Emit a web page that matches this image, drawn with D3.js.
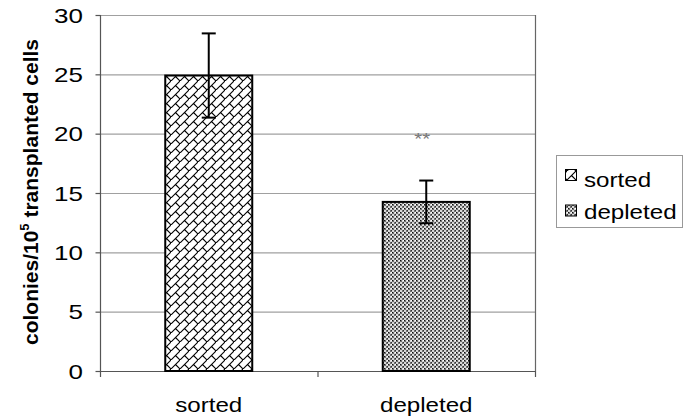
<!DOCTYPE html>
<html>
<head>
<meta charset="utf-8">
<script src="https://cdn.jsdelivr.net/npm/d3@7"></script>
<style>
  html, body { margin: 0; padding: 0; background: #fff; }
  svg { display: block; }
  text { font-family: "Liberation Sans", Arial, sans-serif; }
</style>
</head>
<body>
<svg id="chart" width="689" height="420"></svg>
<script>
// ---- data ----
const categories = ["sorted", "depleted"];
const means = [24.9, 14.25];
const errors = [3.55, 1.8];
const yTicks = [0, 5, 10, 15, 20, 25, 30];
const significance = ["", "**"];
const legendLabels = ["sorted", "depleted"];

const svg = d3.select("#chart");
const plot = { left: 100, right: 535, top: 15, bottom: 371 };
const XS = 1.15; // horizontal stretch of the original text

const x = d3.scaleBand().domain(categories)
  .range([plot.left, plot.right]).paddingInner(0.6).paddingOuter(0.3);
const y = d3.scaleLinear().domain([0, 30]).range([plot.bottom, plot.top]);

// ---- patterns ----
const defs = svg.append("defs");
const P = 9;
const brick = defs.append("pattern").attr("id", "brick")
  .attr("patternUnits", "userSpaceOnUse").attr("width", P).attr("height", P);
brick.append("rect").attr("width", P).attr("height", P).attr("fill", "#fff");
brick.append("path").attr("d", `M-1,${P + 1} L${P + 1},-1 M${P / 2},${P / 2} L${P + 1},${P + 1}`)
  .attr("stroke", "#000").attr("stroke-width", 1.1).attr("fill", "none");

const check = defs.append("pattern").attr("id", "check")
  .attr("patternUnits", "userSpaceOnUse").attr("width", 4).attr("height", 4);
check.append("rect").attr("width", 4).attr("height", 4).attr("fill", "#d8d8d8");
check.append("rect").attr("x", 0).attr("y", 0).attr("width", 2).attr("height", 2).attr("fill", "#6e6e6e");
check.append("rect").attr("x", 2).attr("y", 2).attr("width", 2).attr("height", 2).attr("fill", "#6e6e6e");
check.append("rect").attr("x", 0).attr("y", 0).attr("width", 1).attr("height", 1).attr("fill", "#111");
check.append("rect").attr("x", 3).attr("y", 2).attr("width", 1).attr("height", 1).attr("fill", "#333");
check.append("rect").attr("x", 3).attr("y", 0).attr("width", 1).attr("height", 1).attr("fill", "#fff");
const fills = ["url(#brick)", "url(#check)"];

// ---- gridlines ----
svg.append("g").selectAll("line").data(yTicks.filter(d => d > 0)).join("line")
  .attr("x1", plot.left).attr("x2", plot.right)
  .attr("y1", d => y(d) + 0.5).attr("y2", d => y(d) + 0.5)
  .attr("stroke", "#a0a0a0").attr("stroke-width", 1.2);
// right border
svg.append("line").attr("x1", plot.right + 0.5).attr("x2", plot.right + 0.5)
  .attr("y1", y(30)).attr("y2", y(0)).attr("stroke", "#666").attr("stroke-width", 1.2);

// ---- y axis ----
const yAxis = svg.append("g").attr("transform", `translate(${plot.left + 0.5},0)`);
yAxis.append("line").attr("y1", y(30)).attr("y2", y(0) + 0.5).attr("stroke", "#555").attr("stroke-width", 1.2);
yAxis.selectAll(".tk").data(yTicks).join("line")
  .attr("x1", -5).attr("x2", 0).attr("y1", d => y(d) + 0.5).attr("y2", d => y(d) + 0.5)
  .attr("stroke", "#555").attr("stroke-width", 1.2);
svg.append("g").selectAll("text").data(yTicks).join("text")
  .attr("transform", d => `translate(83,${y(d) + 7.5}) scale(1.3,1)`)
  .attr("text-anchor", "end").attr("font-size", 20).attr("fill", "#000")
  .text(d => d);

// ---- x axis ----
const bounds = [plot.left].concat(categories.map(c => x(c) + x.bandwidth() + (x.step() - x.bandwidth()) / 2));
svg.append("line").attr("x1", plot.left).attr("x2", plot.right + 1)
  .attr("y1", y(0) + 0.5).attr("y2", y(0) + 0.5).attr("stroke", "#555").attr("stroke-width", 1.2);
svg.append("g").selectAll("line").data(bounds).join("line")
  .attr("x1", d => d + 0.5).attr("x2", d => d + 0.5)
  .attr("y1", y(0)).attr("y2", y(0) + 6).attr("stroke", "#555").attr("stroke-width", 1.2);
svg.append("g").selectAll("text").data(categories).join("text")
  .attr("transform", d => `translate(${x(d) + x.bandwidth() / 2},412) scale(${XS},1)`)
  .attr("text-anchor", "middle").attr("font-size", 21).attr("fill", "#000")
  .text(d => d);

// ---- bars ----
svg.append("g").selectAll("rect").data(categories).join("rect")
  .attr("x", d => x(d)).attr("width", x.bandwidth())
  .attr("y", (d, i) => y(means[i])).attr("height", (d, i) => y(0) - y(means[i]))
  .attr("fill", (d, i) => fills[i]).attr("stroke", "#000").attr("stroke-width", 2);

// ---- error bars ----
const eb = svg.append("g").attr("stroke", "#000").attr("stroke-width", 2);
categories.forEach((c, i) => {
  const cx = x(c) + x.bandwidth() / 2;
  const hi = y(means[i] + errors[i]), lo = y(means[i] - errors[i]);
  eb.append("line").attr("x1", cx).attr("x2", cx).attr("y1", hi).attr("y2", lo);
  eb.append("line").attr("x1", cx - 7).attr("x2", cx + 7).attr("y1", hi).attr("y2", hi);
  eb.append("line").attr("x1", cx - 7).attr("x2", cx + 7).attr("y1", lo).attr("y2", lo);
});

// ---- significance ----
svg.append("g").selectAll("text").data(categories).join("text")
  .attr("transform", d => `translate(${x(d) + x.bandwidth() / 2 - 4},145) scale(1.2,1)`)
  .attr("text-anchor", "middle").attr("font-size", 17).attr("fill", "#777")
  .text((d, i) => significance[i]);

// ---- y title ----
const yt = svg.append("text")
  .attr("transform", `translate(38,192) rotate(-90)`)
  .attr("text-anchor", "middle").attr("font-size", 21).attr("font-weight", "bold").attr("fill", "#000");
yt.append("tspan").text("colonies/10");
yt.append("tspan").attr("font-size", 13).attr("dy", -9).text("5");
yt.append("tspan").attr("dy", 9).text(" transplanted cells");

// ---- legend ----
const lg = svg.append("g");
lg.append("rect").attr("x", 556.5).attr("y", 155.5).attr("width", 126).attr("height", 72)
  .attr("fill", "#fff").attr("stroke", "#999").attr("stroke-width", 1);
const swY = [169.5, 205];
const txY = [187, 219];
legendLabels.forEach((l, i) => {
  lg.append("rect").attr("x", 565.5).attr("y", swY[i]).attr("width", 11).attr("height", 11)
    .attr("fill", fills[i]).attr("stroke", "#000").attr("stroke-width", 1);
  lg.append("text").attr("transform", `translate(584,${txY[i]}) scale(${XS},1)`)
    .attr("font-size", 21).attr("fill", "#000").text(l);
});
</script>
</body>
</html>
